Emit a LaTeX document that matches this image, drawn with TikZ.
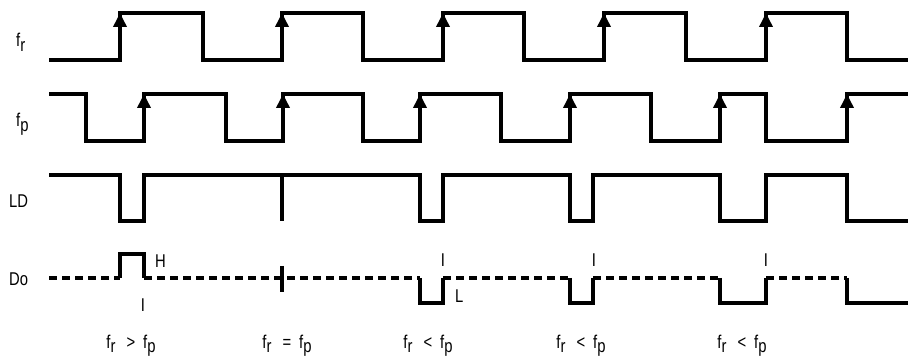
\documentclass[tikz,border=0pt]{standalone}
\usepackage{fontspec}
\setmainfont{Liberation Sans}[FakeStretch=0.8]
\usepackage{tikz}
\usetikzlibrary{arrows.meta,positioning}
\tikzset{
>={Triangle[width=13pt,length=14pt]},
  wave/.style={draw, line width=3.5pt, line join=miter},
  dwave/.style={draw, line width=3.8pt, dash pattern=on 8pt off 5pt},
  rise/.style={draw, line width=3.5pt, ->},
  lbl/.style={inner sep=0pt, anchor=base west, font=\fontsize{18.5}{18.5}\selectfont},
  cmp/.style={inner sep=0pt, anchor=base, font=\fontsize{18.5}{18.5}\selectfont},
}
\newcommand{\sbs}[1]{\raisebox{-0.45ex}{#1}}
\newcommand{\rel}[1]{\hspace{11pt}#1\hspace{8pt}}

\begin{document}
\begin{tikzpicture}[x=1pt, y=-1pt]
    \useasboundingbox (0,0) rectangle (908,358);

    % signal names
    \node[lbl] (lblFr) at (16,47) {f\sbs{r}};
    \node[lbl] (lblFp) at (16,127) {f\sbs{p}};
    \node[lbl] (lblLD) at (9,208) {LD};
    \node[lbl] (lblDo) at (9,285) {Do};

    % f_r
    \path[wave] (49,60) -- (120,60) -- (120,13) -- (203,13) -- (203,60) -- (282,60) -- (282,13)
      -- (363,13) -- (363,60) -- (443,60) -- (443,13) -- (524,13) -- (524,60) -- (604,60)
      -- (604,13) -- (686,13) -- (686,60) -- (766,60) -- (766,13) -- (847,13) -- (847,60) -- (908,60);
    \path[rise] (120,60) -- (120,13);
    \path[rise] (282,60) -- (282,13);
    \path[rise] (443,60) -- (443,13);
    \path[rise] (604,60) -- (604,13);
    \path[rise] (766,60) -- (766,13);

    % f_p
    \path[wave] (49,94) -- (86,94) -- (86,141) -- (144,141) -- (144,94) -- (226,94) -- (226,141)
      -- (283,141) -- (283,94) -- (363,94) -- (363,141) -- (420,141) -- (420,94) -- (501,94)
      -- (501,141) -- (570,141) -- (570,94) -- (651,94) -- (651,141) -- (720,141) -- (720,94)
      -- (766,94) -- (766,141) -- (847,141) -- (847,94) -- (908,94);
    \path[rise] (144,141) -- (144,94);
    \path[rise] (283,141) -- (283,94);
    \path[rise] (420,141) -- (420,94);
    \path[rise] (570,141) -- (570,94);
    \path[rise] (720,141) -- (720,94);
    \path[rise] (847,141) -- (847,94);

    % LD
    \path[wave] (49,175) -- (120,175) -- (120,221) -- (144,221) -- (144,175) -- (420,175)
      -- (420,221) -- (443,221) -- (443,175) -- (570,175) -- (570,221) -- (593,221) -- (593,175)
      -- (720,175) -- (720,221) -- (766,221) -- (766,175) -- (847,175) -- (847,221) -- (908,221);
    \path[wave] (282,175) -- (282,221);

    % Do
    \path[dwave] (49,278) -- (120,278);
    \path[wave] (120,278) -- (120,254) -- (144,254) -- (144,278);
    \path[dwave] (144,278) -- (420,278);
    \path[wave] (282,266) -- (282,292);
    \path[wave] (420,278) -- (420,303) -- (443,303) -- (443,278);
    \path[dwave] (443,278) -- (570,278);
    \path[wave] (570,278) -- (570,303) -- (593,303) -- (593,278);
    \path[dwave] (593,278) -- (720,278);
    \path[wave] (720,278) -- (720,303) -- (766,303) -- (766,278);
    \path[dwave] (766,278) -- (847,278);
    \path[wave] (847,278) -- (847,303) -- (908,303);

    \node[lbl] (markH) at (155,268) {H};
    \node[lbl] (markL) at (455,302) {L};
    \node[cmp] (markI1) at (143,311) {I};
    \node[cmp] (markI2) at (443,267) {I};
    \node[cmp] (markI3) at (594,267) {I};
    \node[cmp] (markI4) at (766,267) {I};

    % comparisons
    \node[cmp] (cmp1) at (131,348) {f\sbs{r}\rel{>}f\sbs{p}};
    \node[cmp] (cmp2) at (287,348) {f\sbs{r}\rel{=}f\sbs{p}};
    \node[cmp] (cmp3) at (428,348) {f\sbs{r}\rel{<}f\sbs{p}};
    \node[cmp] (cmp4) at (581,348) {f\sbs{r}\rel{<}f\sbs{p}};
    \node[cmp] (cmp5) at (742,348) {f\sbs{r}\rel{<}f\sbs{p}};
\end{tikzpicture}
\end{document}
